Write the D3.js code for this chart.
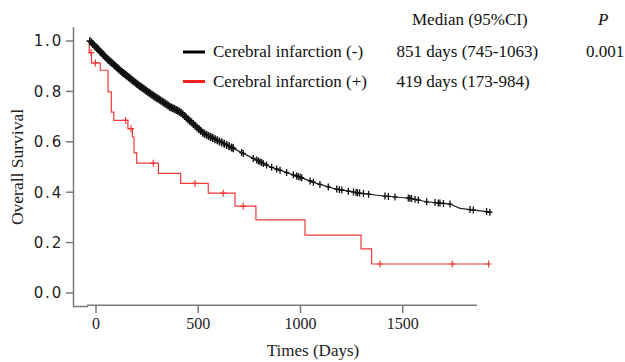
<!DOCTYPE html>
<html>
<head>
<meta charset="utf-8">
<script src="https://cdn.jsdelivr.net/npm/d3@7"></script>
<style>
  body { margin: 0; background: #fff; }
  svg { display: block; }
  .serif { font-family: "Liberation Serif", "Times New Roman", serif; }
</style>
</head>
<body>
<div id="chart"></div>
<script>
// Cerebral infarction (-) : survival curve (days, survival)
var blackTimes = [-34, -28, 54, 127, 209, 290, 362, 412, 525, 688, 851, 1014, 1079, 1160, 1275, 1405, 1535, 1617, 1731, 1780, 1910, 1935];
var blackSurv  = [1.0, 0.999, 0.930, 0.877, 0.824, 0.778, 0.739, 0.718, 0.634, 0.567, 0.501, 0.455, 0.435, 0.415, 0.398, 0.385, 0.376, 0.362, 0.353, 0.336, 0.323, 0.319];
var blackCensor = [-30, -22, -15, -8, -2, 4, 9, 15, 21, 26, 33, 38, 44, 51, 57, 62, 69, 75, 81, 88, 94, 101, 107, 113,
    120, 127, 133, 140, 146, 153, 160, 166, 173, 179, 186, 193, 199, 206, 213, 219, 226, 233, 240, 246, 253, 260,
    267, 274, 281, 288, 295, 302, 309, 316, 324, 331, 338, 346, 353, 361, 368, 376, 384, 392, 400, 408, 416, 424,
    433, 441, 450, 458, 467, 476, 485, 494, 503, 512, 522, 531, 541, 551, 561, 571, 582, 593, 604, 615, 627, 639,
    651, 663, 671, 712, 720, 769, 786, 794, 802, 810, 818, 834, 859, 883, 900, 932, 965, 981, 989, 998, 1006,
    1047, 1063, 1095, 1136, 1177, 1190, 1202, 1234, 1259, 1272, 1279, 1289, 1308, 1333, 1413, 1430, 1462, 1527,
    1535, 1543, 1560, 1576, 1617, 1658, 1674, 1682, 1699, 1731, 1829, 1845, 1910, 1926];

// Cerebral infarction (+) : step curve
var redTimes = [-35, -33, -22, 21, 59, 75, 87, 156, 178, 186, 199, 305, 414, 549, 680, 782, 1022, 1296, 1348, 1920];
var redSurv  = [1.0, 0.954, 0.913, 0.884, 0.798, 0.718, 0.685, 0.652, 0.619, 0.556, 0.515, 0.475, 0.435, 0.396, 0.345, 0.290, 0.230, 0.175, 0.115, 0.115];
var redCensor = [-24, -3, 145, 171, 280, 484, 622, 720, 1389, 1742, 1920];

var xTicks = [0, 500, 1000, 1500];
var yTicks = [0, 0.2, 0.4, 0.6, 0.8, 1.0];

var legendNames = ["Cerebral infarction (-)", "Cerebral infarction (+)"];
var legendMedians = ["851 days (745-1063)", "419 days (173-984)"];
var legendColors = ["#000000", "#ff1f1f"];
var pValue = "0.001";

var width = 625, height = 362;
var axisColor = "#7a7a7a";

var svg = d3.select("#chart").append("svg")
    .attr("width", width)
    .attr("height", height);

var x = d3.scaleLinear().domain([0, 1500]).range([96, 402.75]);
var y = d3.scaleLinear().domain([0, 1]).range([293, 41]);

// axes, drawn by hand to match the odd corner of the original
svg.append("line")
    .attr("x1", 73.5).attr("y1", 27).attr("x2", 73.5).attr("y2", 306.5)
    .attr("stroke", axisColor).attr("stroke-width", 1.5);
svg.append("line")
    .attr("x1", 73).attr("y1", 306.5).attr("x2", 88).attr("y2", 306.5)
    .attr("stroke", axisColor).attr("stroke-width", 1.5);
svg.append("line")
    .attr("x1", 87).attr("y1", 305.3).attr("x2", 477).attr("y2", 305.3)
    .attr("stroke", axisColor).attr("stroke-width", 1.5);

var yt = svg.selectAll(".ytick").data(yTicks).enter().append("g").attr("class", "ytick");
yt.append("line")
    .attr("x1", 66).attr("x2", 73.5)
    .attr("y1", function(d) { return y(d); })
    .attr("y2", function(d) { return y(d); })
    .attr("stroke", axisColor).attr("stroke-width", 1.5);
yt.append("text")
    .attr("x", 63)
    .attr("y", function(d) { return y(d); })
    .attr("dy", "0.36em")
    .attr("text-anchor", "end")
    .attr("font-family", "DejaVu Sans, Verdana, sans-serif")
    .attr("font-size", 15)
    .attr("letter-spacing", 1.8)
    .attr("fill", "#222")
    .text(function(d) { return d3.format(".1f")(d); });

var xt = svg.selectAll(".xtick").data(xTicks).enter().append("g").attr("class", "xtick");
xt.append("line")
    .attr("x1", function(d) { return x(d); })
    .attr("x2", function(d) { return x(d); })
    .attr("y1", 305).attr("y2", 313)
    .attr("stroke", axisColor).attr("stroke-width", 1.5);
xt.append("text")
    .attr("class", "serif")
    .attr("x", function(d) { return x(d); })
    .attr("y", 329)
    .attr("text-anchor", "middle")
    .attr("font-size", 16)
    .attr("fill", "#222")
    .text(function(d) { return d; });

svg.append("text")
    .attr("class", "serif")
    .attr("x", 313).attr("y", 356)
    .attr("text-anchor", "middle")
    .attr("font-size", 17)
    .attr("fill", "#222")
    .text("Times (Days)");

svg.append("text")
    .attr("class", "serif")
    .attr("transform", "translate(23,167) rotate(-90)")
    .attr("text-anchor", "middle")
    .attr("font-size", 17.5)
    .attr("fill", "#222")
    .text("Overall Survival");

// curves
var blackPts = blackTimes.map(function(t, i) { return [t, blackSurv[i]]; });
var redPts = redTimes.map(function(t, i) { return [t, redSurv[i]]; });

var blackLine = d3.line()
    .x(function(d) { return x(d[0]); })
    .y(function(d) { return y(d[1]); });
var redLine = d3.line()
    .curve(d3.curveStepAfter)
    .x(function(d) { return x(d[0]); })
    .y(function(d) { return y(d[1]); });

// survival at censor time: linear for black, step for red
var blackAt = function(t) {
    var i = d3.bisectRight(blackTimes, t) - 1;
    if (i < 0) return blackSurv[0];
    if (i >= blackTimes.length - 1) return blackSurv[blackSurv.length - 1];
    var f = (t - blackTimes[i]) / (blackTimes[i + 1] - blackTimes[i]);
    return blackSurv[i] + f * (blackSurv[i + 1] - blackSurv[i]);
};
var redAt = function(t) {
    var i = Math.max(0, d3.bisectRight(redTimes, t) - 1);
    return redSurv[i];
};

var plus = function(cx, cy, hw, hh) {
    return "M" + (cx - hw) + "," + cy + "H" + (cx + hw) + "M" + cx + "," + (cy - hh) + "V" + (cy + hh);
};

svg.append("path")
    .datum(redPts)
    .attr("d", redLine)
    .attr("fill", "none")
    .attr("stroke", "#f03a3a")
    .attr("stroke-width", 1.2);

svg.append("g").selectAll("path")
    .data(redCensor).enter().append("path")
    .attr("d", function(t) { return plus(x(t), y(redAt(t)), 3, 3.5); })
    .attr("stroke", "#f03a3a")
    .attr("stroke-width", 1.2)
    .attr("fill", "none");

svg.append("path")
    .datum(blackPts)
    .attr("d", blackLine)
    .attr("fill", "none")
    .attr("stroke", "#222")
    .attr("stroke-width", 1.2);

// dense early marks are a bit chunkier, as in the original
svg.append("g").selectAll("path")
    .data(blackCensor).enter().append("path")
    .attr("d", function(t) {
        var big = t < 700;
        return plus(x(t), y(blackAt(t)), big ? 3.2 : 2.5, big ? 4 : 3.5);
    })
    .attr("stroke", "#111")
    .attr("stroke-width", function(t) { return t < 700 ? 1.6 : 1.3; })
    .attr("fill", "none");

// legend
svg.append("text")
    .attr("class", "serif")
    .attr("x", 412).attr("y", 25)
    .attr("font-size", 17)
    .attr("fill", "#111")
    .text("Median (95%CI)");
svg.append("text")
    .attr("class", "serif")
    .attr("x", 598).attr("y", 25)
    .attr("font-size", 17)
    .attr("font-style", "italic")
    .attr("fill", "#111")
    .text("P");

var leg = svg.selectAll(".leg").data(legendNames).enter().append("g").attr("class", "leg");
leg.append("line")
    .attr("x1", 183).attr("x2", 205)
    .attr("y1", function(d, i) { return 52 + i * 29.5; })
    .attr("y2", function(d, i) { return 52 + i * 29.5; })
    .attr("stroke", function(d, i) { return legendColors[i]; })
    .attr("stroke-width", 3);
leg.append("text")
    .attr("class", "serif")
    .attr("x", 213)
    .attr("y", function(d, i) { return 57 + i * 29.5; })
    .attr("font-size", 17)
    .attr("fill", "#111")
    .text(function(d) { return d; });
leg.append("text")
    .attr("class", "serif")
    .attr("x", 396.5)
    .attr("y", function(d, i) { return 57 + i * 29.5; })
    .attr("font-size", 17)
    .attr("fill", "#111")
    .text(function(d, i) { return legendMedians[i]; });

svg.append("text")
    .attr("class", "serif")
    .attr("x", 586).attr("y", 57)
    .attr("font-size", 17)
    .attr("fill", "#111")
    .text(pValue);
</script>
</body>
</html>
